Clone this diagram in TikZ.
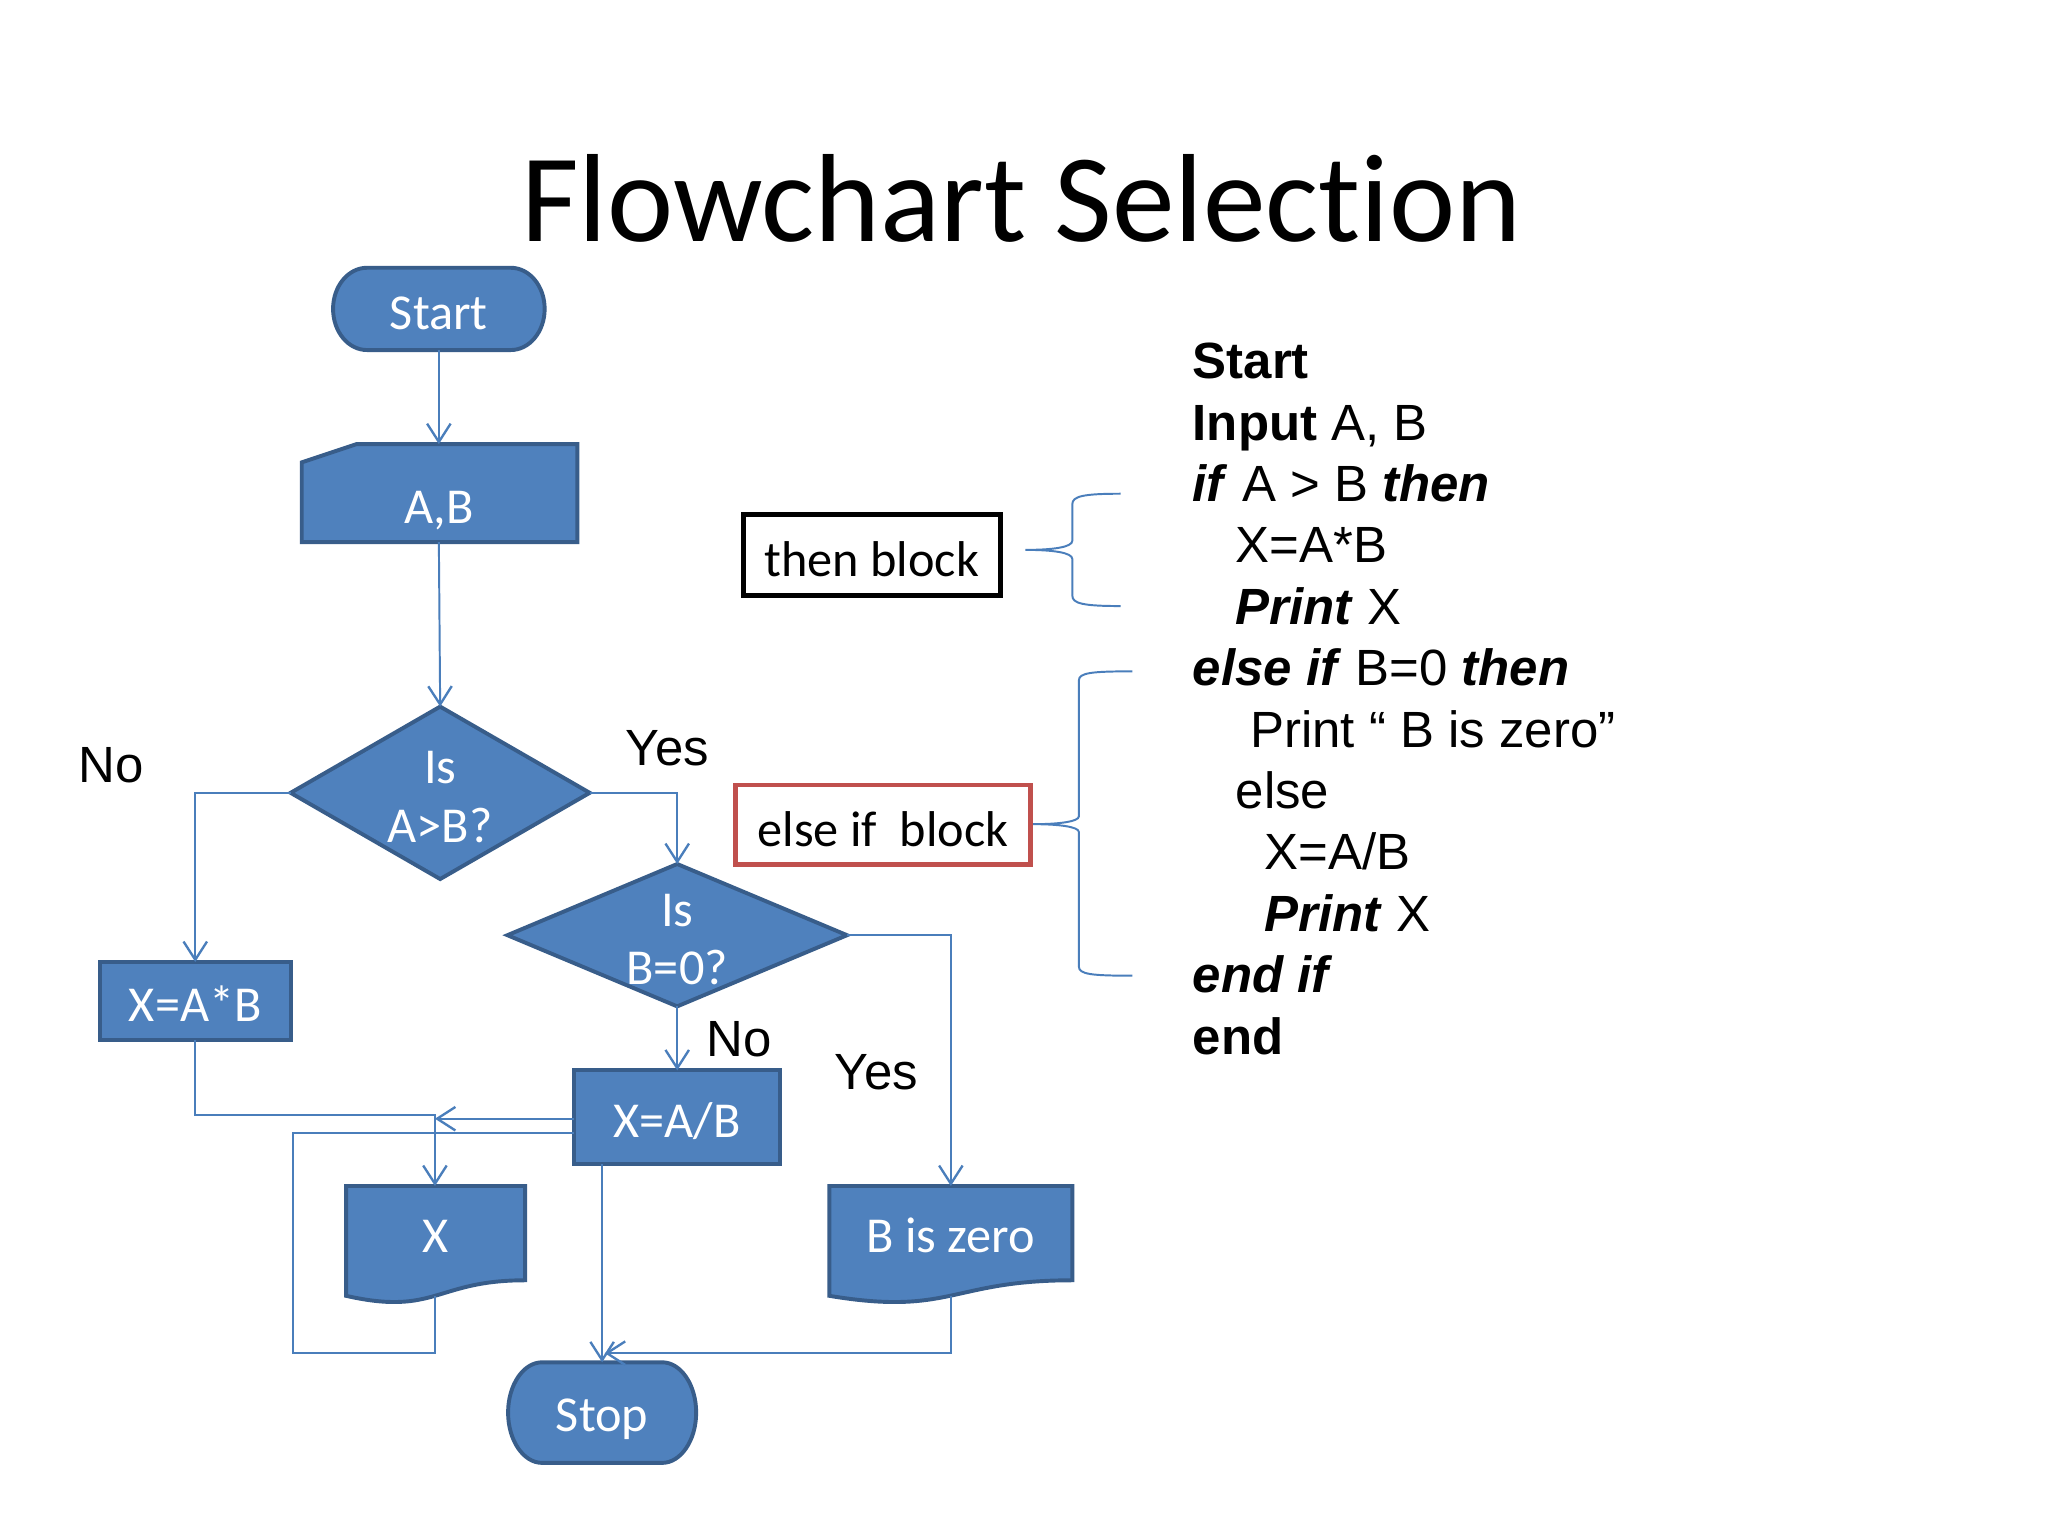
\documentclass[tikz,border=0pt]{standalone}
\usepackage{fontspec}
\setmainfont{Liberation Sans}
\newfontfamily\calib[Ligatures=NoCommon]{Carlito}
\usetikzlibrary{shapes.geometric,arrows.meta}
\definecolor{fc}{HTML}{4F81BD}
\definecolor{fb}{HTML}{385D8A}
\definecolor{ln}{HTML}{4A7EBB}
\definecolor{redb}{HTML}{C0504D}
\begin{document}
\begin{tikzpicture}[x=1pt,y=-1pt,
  shp/.style={fill=fc,draw=fb,line width=3pt,line join=miter},
  boxshp/.style={shp,rectangle,inner sep=0pt,outer sep=0pt},
  dshp/.style={shp,diamond,inner sep=0pt,outer sep=0pt},
  ftxt/.style={font=\calib\fontsize{38.5}{40}\selectfont,text=white,anchor=base,inner sep=0pt},
  btxt/.style={font=\calib\fontsize{38.5}{40}\selectfont,text=black,anchor=base,inner sep=0pt},
  lbl/.style={font=\fontsize{39}{40}\selectfont,anchor=base,inner sep=0pt},
  code/.style={font=\fontsize{39}{40}\selectfont,anchor=base west,inner sep=0pt},
  conn/.style={draw=ln,line width=1.5pt},
  arr/.style={conn,-{Straight Barb[length=14pt,width=18pt,line width=1.8pt]}},
  brace/.style={draw=ln,line width=1.5pt},
]
\useasboundingbox (0,0) rectangle (1568,1176);
\fill[white] (0,0) rectangle (1568,1176);

% title
\node[font=\calib\fontsize{96}{100}\selectfont,anchor=base,inner sep=0pt] (title) at (782,185) {Flowchart Selection};

% ---- shapes ----
% Start terminator
\path[shp] (281,205) -- (391,205) .. controls (405.4,205) and (417,219.1) .. (417,236.5)
  .. controls (417,253.9) and (405.4,268) .. (391,268) -- (281,268)
  .. controls (266.6,268) and (255,253.9) .. (255,236.5)
  .. controls (255,219.1) and (266.6,205) .. cycle;
\node[ftxt] (start) at (336,252) {Start};
\coordinate (start-s) at (336,268);

% A,B manual input
\path[shp] (231,354) -- (273,340) -- (442,340) -- (442,415) -- (231,415) -- cycle;
\node[ftxt] (ab) at (336,401) {A,B};
\coordinate (ab-n) at (336,340);
\coordinate (ab-s) at (336,415);

% decision 1
\node[dshp,minimum width=229pt,minimum height=132pt] (d1) at (337,607) {};
\node[ftxt] (d1a) at (337,600) {Is};
\node[ftxt] (d1b) at (337,645) {A>B?};

% decision 2
\node[dshp,minimum width=260pt,minimum height=109pt] (d2) at (518.5,716) {};
\node[ftxt] (d2a) at (518.5,709) {Is};
\node[ftxt] (d2b) at (518.5,754) {B=0?};

% X=A*B
\node[boxshp,minimum width=146pt,minimum height=60pt] (xab) at (149.5,766.5) {};
\node[ftxt] (xabt) at (149.5,782) {X=A*B};

% X=A/B
\node[boxshp,minimum width=158pt,minimum height=72pt] (xdiv) at (518.5,855.5) {};
\node[ftxt] (xdivt) at (518.5,871) {X=A/B};

% X document
\path[shp] (265,908) -- (402,908) -- (402,980.2) .. controls (333.5,980.2) and (333.5,1007.6) .. (265,992.1) -- cycle;
\node[ftxt] (xdoc) at (333.5,959) {X};
\coordinate (xdoc-n) at (333,908);
\coordinate (xdoc-s) at (333,992);

% B is zero document
\path[shp] (635,908) -- (821,908) -- (821,980.2) .. controls (728,980.2) and (728,1007.6) .. (635,992.1) -- cycle;
\node[ftxt] (bzero) at (728,959) {B is zero};
\coordinate (bz-n) at (728,908);
\coordinate (bz-s) at (728,992);

% Stop terminator
\path[shp] (415,1043) -- (507,1043) .. controls (521.2,1043) and (533,1060.2) .. (533,1081.5)
  .. controls (533,1102.8) and (521.2,1120) .. (507,1120) -- (415,1120)
  .. controls (400.8,1120) and (389,1102.8) .. (389,1081.5)
  .. controls (389,1060.2) and (400.8,1043) .. cycle;
\node[ftxt] (stop) at (461,1096) {Stop};
\coordinate (stop-n) at (461,1043);
\coordinate (stop-ne) at (463,1036);

% ---- connectors ----
\draw[arr] (start-s) -- (ab-n);
\draw[arr] (ab-s) -- (d1.north);
\draw[arr] (d1.west) -| (xab.north);
\draw[arr] (d1.east) -| (d2.north);
\draw[arr] (d2.south) -- (xdiv.north);
\draw[arr] (d2.east) -| (bz-n);
\draw[arr] (xab.south) |- (333,853.5) -- (xdoc-n);
\draw[arr] (xdiv.west |- 0,856.5) -- (333,856.5);
\draw[conn] (xdoc-s) -- (333,1036) -| (224,867.5) -- (xdiv.west |- 0,867.5);
\draw[arr] (461,891.5) -- (stop-n);
\draw[arr] (bz-s) |- (stop-ne);

% branch labels
\node[lbl] (no1) at (85,599) {No};
\node[lbl] (yes1) at (511,586) {Yes};
\node[lbl] (no2) at (566,809) {No};
\node[lbl] (yes2) at (671,834) {Yes};

% ---- right side ----
\node[draw=black,line width=4pt,minimum width=197pt,minimum height=62pt,inner sep=0pt] (thenb) at (667.5,425) {};
\node[btxt] (thent) at (667.5,441) {then block};
\node[draw=redb,line width=3.5pt,minimum width=226pt,minimum height=61pt,inner sep=0pt] (elseb) at (676,631.5) {};
\node[btxt] (elset) at (676,648) {else if\ \ block};

\draw[brace] (858,378) .. controls (829,378) and (821,380) .. (821,386) -- (821,414)
  .. controls (821,419) and (806,421) .. (785,421)
  .. controls (806,421) and (821,423) .. (821,428) -- (821,456)
  .. controls (821,462) and (829,464) .. (858,464);
\draw[brace] (867,514) .. controls (836,514) and (826,515) .. (826,521) -- (826,625)
  .. controls (826,629) and (811,631) .. (791,631)
  .. controls (811,631) and (826,633) .. (826,637) -- (826,740)
  .. controls (826,746) and (836,747) .. (867,747);

% pseudocode
\node[code] (c1) at (913,290) {\textbf{Start}};
\node[code] (c2) at (913,337) {\textbf{Input} A, B};
\node[code] (c3) at (913,384) {\textbf{\textit{if}} A > B \textbf{\textit{then}}};
\node[code] (c4) at (946,431) {X=A*B};
\node[code] (c5) at (946,478) {\textbf{\textit{Print}} X};
\node[code] (c6) at (913,525) {\textbf{\textit{else if}} B=0 \textbf{\textit{then}}};
\node[code] (c7) at (957,572) {Print “ B is zero”};
\node[code] (c8) at (946,619) {else};
\node[code] (c9) at (968,666) {X=A/B};
\node[code] (c10) at (968,713) {\textbf{\textit{Print}} X};
\node[code] (c11) at (913,760) {\textbf{\textit{end if}}};
\node[code] (c12) at (913,807) {\textbf{end}};
\end{tikzpicture}
\end{document}
